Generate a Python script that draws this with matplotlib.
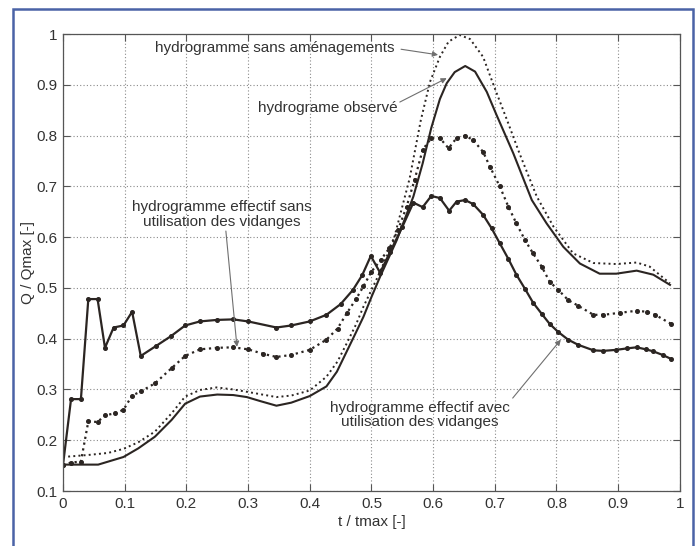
import matplotlib
matplotlib.use("Agg")
import matplotlib.pyplot as plt
from matplotlib.patches import Rectangle

# hydrogramme sans aménagements (dotted)
x_sans_amen = [0, 0.041, 0.073, 0.098, 0.122, 0.149, 0.176, 0.198, 0.222, 0.249, 0.276, 0.30,
               0.346, 0.37, 0.40, 0.427, 0.445, 0.46, 0.475, 0.487, 0.508, 0.535, 0.562, 0.58,
               0.595, 0.611, 0.625, 0.643, 0.66, 0.681, 0.70, 0.72, 0.74, 0.768, 0.795, 0.827,
               0.86, 0.897, 0.93, 0.951, 0.984]
y_sans_amen = [0.167, 0.171, 0.175, 0.183, 0.196, 0.217, 0.253, 0.286, 0.299, 0.304, 0.300, 0.295,
               0.285, 0.288, 0.298, 0.325, 0.355, 0.391, 0.428, 0.463, 0.516, 0.59, 0.716, 0.83,
               0.906, 0.955, 0.985, 0.998, 0.99, 0.955, 0.893, 0.83, 0.765, 0.68, 0.621, 0.568,
               0.549, 0.547, 0.55, 0.542, 0.509]

# hydrogramme observé (solid)
x_observe = [0, 0.057, 0.098, 0.122, 0.149, 0.176, 0.198, 0.222, 0.25, 0.276, 0.298, 0.32,
             0.346, 0.37, 0.40, 0.427, 0.444, 0.46, 0.474, 0.487, 0.50, 0.514, 0.541, 0.568,
             0.583, 0.597, 0.611, 0.622, 0.635, 0.652, 0.668, 0.687, 0.703, 0.73, 0.76, 0.784,
             0.811, 0.838, 0.87, 0.897, 0.93, 0.957, 0.984]
y_observe = [0.152, 0.152, 0.167, 0.184, 0.207, 0.240, 0.272, 0.286, 0.290, 0.289, 0.285, 0.277,
             0.268, 0.274, 0.287, 0.306, 0.335, 0.375, 0.41, 0.443, 0.482, 0.522, 0.594, 0.68,
             0.745, 0.815, 0.872, 0.903, 0.925, 0.937, 0.926, 0.886, 0.84, 0.765, 0.673, 0.627,
             0.581, 0.548, 0.528, 0.528, 0.534, 0.526, 0.506]

# hydrogramme effectif sans utilisation des vidanges (dotted + dots)
x_eff_sans = [0, 0.013, 0.029, 0.041, 0.056, 0.068, 0.084, 0.098, 0.112, 0.126, 0.149, 0.176,
              0.198, 0.222, 0.25, 0.276, 0.30, 0.325, 0.346, 0.37, 0.40, 0.427, 0.445, 0.46,
              0.475, 0.487, 0.50, 0.515, 0.529, 0.543, 0.557, 0.57, 0.583, 0.597, 0.611, 0.625,
              0.638, 0.652, 0.665, 0.681, 0.692, 0.708, 0.722, 0.735, 0.749, 0.762, 0.776,
              0.789, 0.803, 0.819, 0.835, 0.86, 0.876, 0.903, 0.93, 0.946, 0.96, 0.986]
y_eff_sans = [0.152, 0.156, 0.158, 0.237, 0.236, 0.249, 0.253, 0.26, 0.288, 0.296, 0.312, 0.342,
              0.366, 0.379, 0.382, 0.383, 0.379, 0.37, 0.364, 0.368, 0.378, 0.398, 0.42, 0.45,
              0.478, 0.503, 0.532, 0.555, 0.578, 0.614, 0.66, 0.713, 0.772, 0.795, 0.795, 0.775,
              0.795, 0.80, 0.791, 0.768, 0.739, 0.70, 0.66, 0.627, 0.594, 0.568, 0.542,
              0.512, 0.496, 0.476, 0.465, 0.447, 0.447, 0.451, 0.455, 0.453, 0.447, 0.429]

# hydrogramme effectif avec utilisation des vidanges (solid + dots)
x_eff_avec = [0, 0.013, 0.029, 0.041, 0.056, 0.068, 0.082, 0.098, 0.112, 0.126, 0.15, 0.175,
              0.198, 0.222, 0.25, 0.276, 0.30, 0.346, 0.37, 0.40, 0.427, 0.45, 0.47, 0.485,
              0.499, 0.514, 0.53, 0.55, 0.568, 0.583, 0.597, 0.611, 0.626, 0.638, 0.652, 0.665,
              0.681, 0.695, 0.708, 0.722, 0.735, 0.749, 0.762, 0.776, 0.789, 0.803, 0.819,
              0.835, 0.86, 0.876, 0.897, 0.915, 0.93, 0.945, 0.957, 0.972, 0.986]
y_eff_avec = [0.152, 0.281, 0.281, 0.478, 0.478, 0.382, 0.422, 0.426, 0.453, 0.366, 0.385, 0.405,
              0.426, 0.434, 0.437, 0.438, 0.434, 0.422, 0.426, 0.434, 0.447, 0.468, 0.496, 0.525,
              0.563, 0.530, 0.57, 0.62, 0.668, 0.659, 0.681, 0.677, 0.652, 0.67, 0.673, 0.665,
              0.644, 0.617, 0.588, 0.557, 0.526, 0.498, 0.471, 0.449, 0.429, 0.413, 0.398,
              0.388, 0.377, 0.376, 0.378, 0.381, 0.383, 0.379, 0.375, 0.368, 0.360]

x_ticks = [0, 0.1, 0.2, 0.3, 0.4, 0.5, 0.6, 0.7, 0.8, 0.9, 1]
x_tick_labels = ["0", "0.1", "0.2", "0.3", "0.4", "0.5", "0.6", "0.7", "0.8", "0.9", "1"]
y_ticks = [0.1, 0.2, 0.3, 0.4, 0.5, 0.6, 0.7, 0.8, 0.9, 1]
y_tick_labels = ["0.1", "0.2", "0.3", "0.4", "0.5", "0.6", "0.7", "0.8", "0.9", "1"]

plt.rcParams["font.family"] = ["Liberation Sans", "DejaVu Sans"]
line_col = "#2b2522"
text_col = "#333333"
arrow_col = "#6f6f6f"

fig = plt.figure(figsize=(6.98, 5.46), dpi=100)
ax = fig.add_axes([0.0903, 0.1007, 0.8837, 0.837])

ax.plot(x_sans_amen, y_sans_amen, linestyle=":", color=line_col, lw=1.4)
ax.plot(x_observe, y_observe, linestyle="-", color=line_col, lw=1.5)
ax.plot(x_eff_sans, y_eff_sans, linestyle=":", marker="o", markersize=2.6, color=line_col, lw=1.6)
ax.plot(x_eff_avec, y_eff_avec, linestyle="-", marker="o", markersize=2.6, color=line_col, lw=1.6)

ax.set_xlim(0, 1)
ax.set_ylim(0.1, 1)
ax.set_xticks(x_ticks)
ax.set_xticklabels(x_tick_labels)
ax.set_yticks(y_ticks)
ax.set_yticklabels(y_tick_labels)
ax.tick_params(direction="in", length=5, width=0.8, top=True, right=True,
               labelsize=11, colors="#555555", labelcolor=text_col, pad=4)
ax.grid(True, color="#8a8a8a", linestyle=(0, (1, 2)), lw=0.8)
for sp in ax.spines.values():
    sp.set_color("#555555")
    sp.set_linewidth(0.9)

ax.set_xlabel("t / tmax [-]", fontsize=11, color=text_col, labelpad=3)
ax.set_ylabel("Q / Qmax [-]", fontsize=11, color=text_col, labelpad=1)

# annotations
ann_fs = 11
arrow_kw = dict(arrowstyle="-|>", color=arrow_col, lw=0.8, mutation_scale=8, shrinkA=0, shrinkB=0)

ax.text(0.344, 0.972, "hydrogramme sans aménagements", fontsize=ann_fs, color=text_col,
        ha="center", va="center")
ax.annotate("", xy=(0.608, 0.959), xytext=(0.548, 0.970), arrowprops=arrow_kw)

ax.text(0.43, 0.855, "hydrograme observé", fontsize=ann_fs, color=text_col,
        ha="center", va="center")
ax.annotate("", xy=(0.622, 0.913), xytext=(0.546, 0.866), arrowprops=arrow_kw)

ax.text(0.258, 0.645, "hydrogramme effectif sans\nutilisation des vidanges", fontsize=ann_fs,
        color=text_col, ha="center", va="center", multialignment="center", linespacing=1.05)
ax.annotate("", xy=(0.282, 0.384), xytext=(0.264, 0.612), arrowprops=arrow_kw)

ax.text(0.579, 0.25, "hydrogramme effectif avec\nutilisation des vidanges", fontsize=ann_fs,
        color=text_col, ha="center", va="center", multialignment="center", linespacing=1.05)
ax.annotate("", xy=(0.807, 0.398), xytext=(0.729, 0.283), arrowprops=arrow_kw)

# blue frame around the figure
W, H = 698, 546
frame = Rectangle((13 / W, -0.02), (693 - 13) / W, 1.02 - 9 / H, transform=fig.transFigure,
                  fill=False, edgecolor="#4a63a6", lw=1.8)
fig.patches.append(frame)

fig.savefig("out.png", dpi=100)
